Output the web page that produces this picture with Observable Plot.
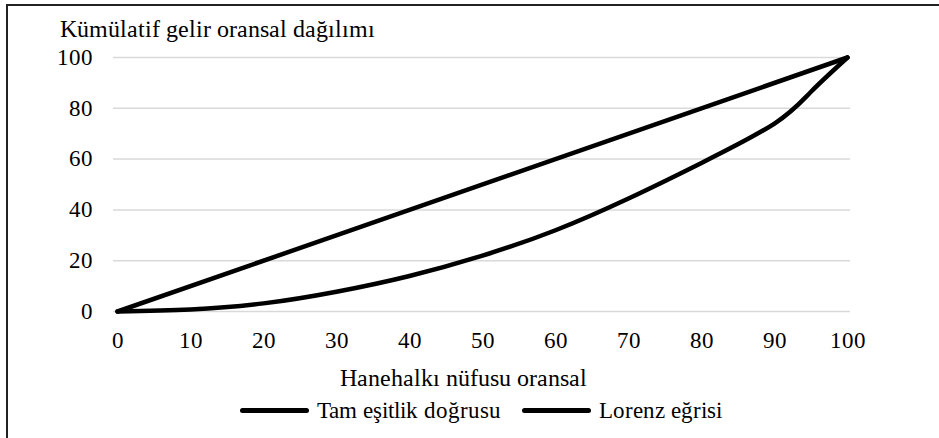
<!DOCTYPE html>
<html>
<head>
<meta charset="utf-8">
<script src="https://cdn.jsdelivr.net/npm/d3@7"></script>
<script src="https://cdn.jsdelivr.net/npm/@observablehq/plot@0.6"></script>
<style>
  @font-face { font-family: 'RefSerif'; src: local('Liberation Serif'), local('LiberationSerif'), local('LiberationSerif-Regular'), local('Liberation Serif Regular'); }
  html, body { margin: 0; padding: 0; }
  #frame { position: absolute; left: 6px; top: 4px; width: 960px; height: 460px; border: 2px solid #222; box-sizing: border-box; }
  #chart { position: absolute; left: 0; top: 0; }
  .txt { position: absolute; color: #000; white-space: nowrap; line-height: 1; }
  #ytitle { left: 60px; top: 18px; font-size: 23.5px; }
  #xtitle { left: 0; width: 927px; text-align: center; top: 366px; font-size: 24px; }
  #legend { position: absolute; top: 399px; left: 240px; display: flex; gap: 21px; font-size: 23px; line-height: 1; white-space: nowrap; }
  .item { display: flex; align-items: center; gap: 8px; }
  .sw { width: 69px; height: 5px; background: #000; border-radius: 3px; }
</style>
</head>
<body style="font-family: RefSerif, 'Liberation Serif', serif;">
<div id="frame"></div>
<div id="chart"></div>
<div class="txt" id="ytitle" style="font-family: RefSerif, 'Liberation Serif', serif;">Kümülatif gelir oransal dağılımı</div>
<div class="txt" id="xtitle" style="font-family: RefSerif, 'Liberation Serif', serif;">Hanehalkı nüfusu oransal</div>
<div id="legend" style="font-family: RefSerif, 'Liberation Serif', serif;"></div>
<script>
const seriesNames = ["Tam eşitlik doğrusu", "Lorenz eğrisi"];
const equalityX = [0, 100];
const equalityY = [0, 100];
const lorenzX = [0, 10, 20, 30, 40, 50, 60, 70, 80, 90, 95, 100];
const lorenzY = [0, 0.8, 3.2, 7.8, 14, 22, 32, 44.5, 58.5, 74, 86.5, 100];
const xTicks = [0, 10, 20, 30, 40, 50, 60, 70, 80, 90, 100];
const yTicks = [0, 20, 40, 60, 80, 100];

const equality = equalityX.map((x, i) => ({x, y: equalityY[i]}));
const lorenz = lorenzX.map((x, i) => ({x, y: lorenzY[i]}));

const FONT = "RefSerif, 'Liberation Serif', serif";

const plot = Plot.plot({
  width: 939,
  height: 360,
  marginTop: 57,
  marginLeft: 113,
  marginRight: 89,
  marginBottom: 49,
  style: {fontFamily: FONT, fontSize: "24px", background: "transparent", color: "#000"},
  x: {domain: [0, 100], insetLeft: 4, insetRight: 3, label: null},
  y: {domain: [0, 100], label: null},
  marks: [
    Plot.ruleY(yTicks, {stroke: "#d9d9d9", strokeWidth: 1.5}),
    Plot.axisX({ticks: xTicks, tickSize: 0, tickPadding: 20, label: null, fontSize: 23, fontFamily: FONT}),
    Plot.axisY({ticks: yTicks, tickSize: 0, tickPadding: 21, label: null, fontSize: 23, fontFamily: FONT}),
    Plot.line(equality, {x: "x", y: "y", stroke: "#000", strokeWidth: 4.5, strokeLinejoin: "round"}),
    Plot.line(lorenz, {x: "x", y: "y", stroke: "#000", strokeWidth: 4.5, curve: "natural", strokeLinejoin: "round"})
  ]
});
document.getElementById("chart").appendChild(plot);

const legend = document.getElementById("legend");
seriesNames.forEach(n => {
  const it = document.createElement("div");
  it.className = "item";
  const sw = document.createElement("span");
  sw.className = "sw";
  const t = document.createElement("span");
  t.textContent = n;
  it.appendChild(sw); it.appendChild(t);
  legend.appendChild(it);
});
</script>
</body>
</html>
